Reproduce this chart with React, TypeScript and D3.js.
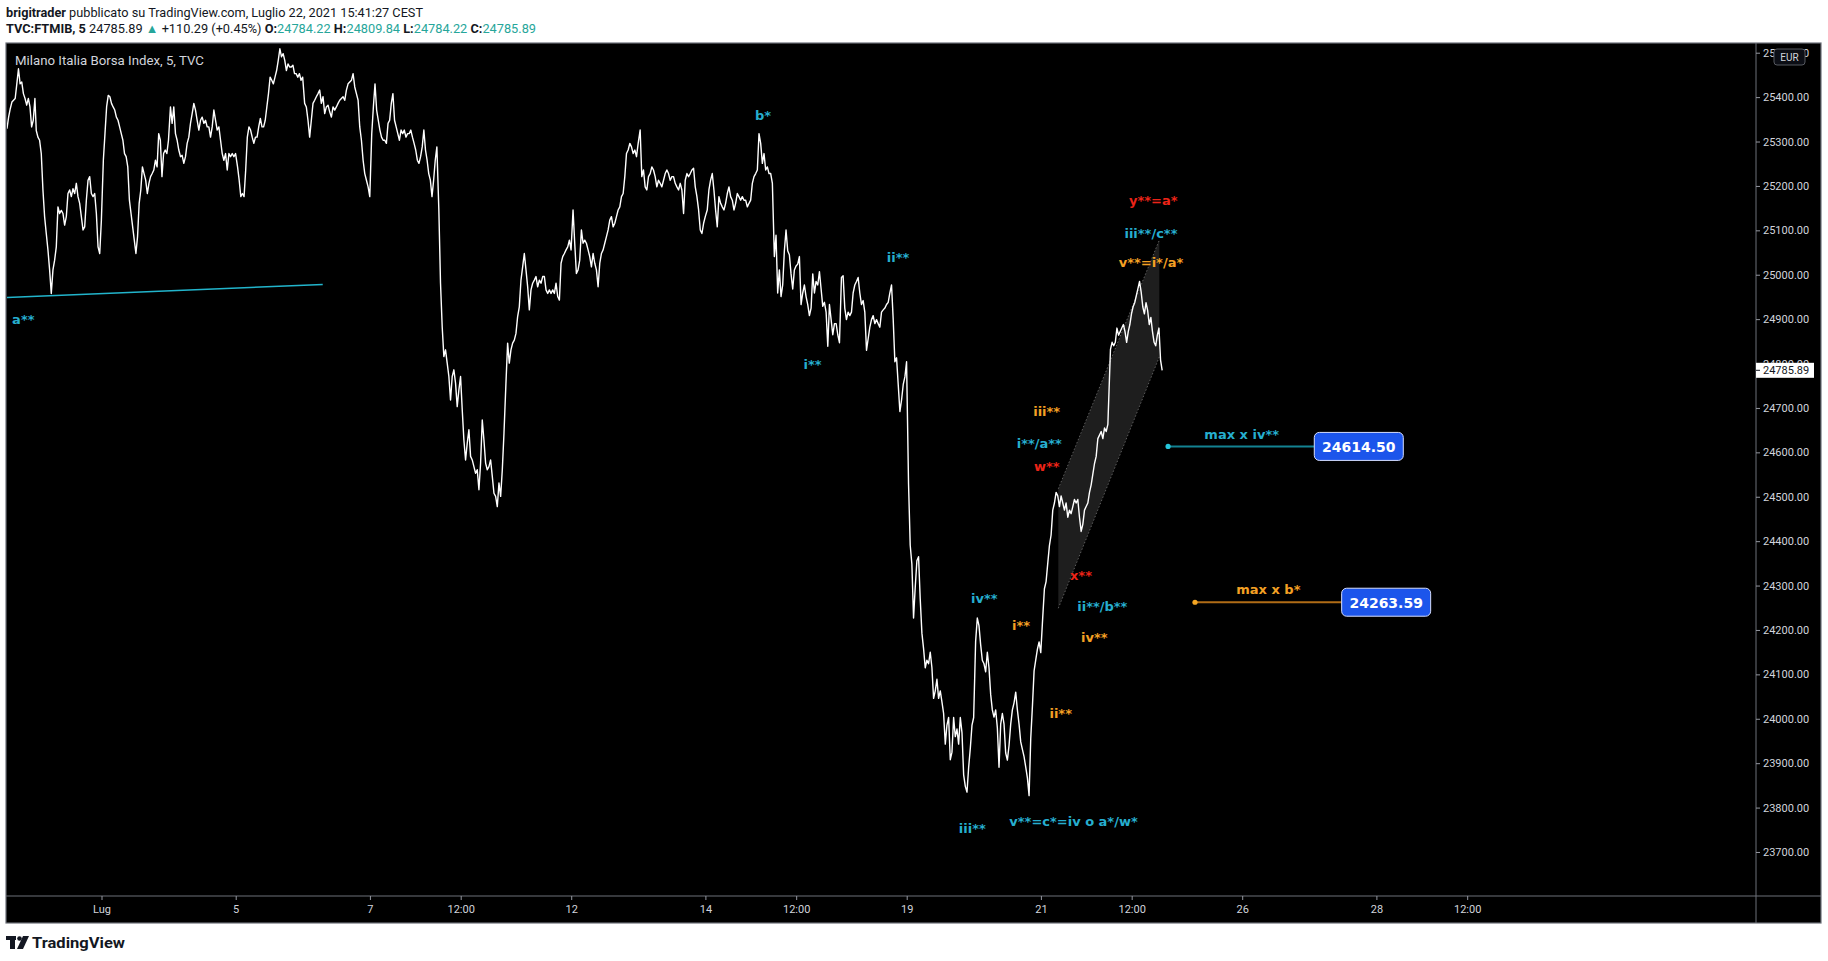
import React from "react";
import * as d3 from "d3";

// ---------------- DATA ----------------
const sessionDates = [
  "2021-06-29", "2021-06-30", "2021-07-01", "2021-07-02", "2021-07-05", "2021-07-06",
  "2021-07-07", "2021-07-08", "2021-07-09", "2021-07-12", "2021-07-13", "2021-07-14",
  "2021-07-15", "2021-07-16", "2021-07-19", "2021-07-20", "2021-07-21", "2021-07-22",
];
// first/last sampled hour of each session (Borsa 09:00-17:30)
const sessionStartHour = [13.96, 9.17, 9.17, 9.17, 9.17, 9.17, 9.17, 9.17, 9.17, 9.17, 9.17, 9.17, 9.17, 9.17, 9.17, 9.17, 9.17, 9.25];
const sessionEndHour = [17.5, 17.42, 17.42, 17.42, 17.42, 17.42, 17.42, 17.42, 17.42, 17.42, 17.42, 17.42, 17.42, 17.42, 17.42, 17.42, 17.42, 15.8];

const jun29 = [25330, 25356, 25375, 25390, 25394, 25398, 25431, 25465, 25431, 25435, 25409, 25398, 25383, 25398, 25379, 25334, 25349, 25398];
const jun30 = [25326, 25311, 25304, 25274, 25192, 25132, 25094, 25057, 25012, 24959, 25012, 25034, 25064, 25154, 25139, 25146, 25139, 25113, 25132, 25184, 25192, 25177, 25195, 25184, 25207, 25177, 25162, 25132, 25102, 25109, 25169, 25214, 25222, 25184, 25177, 25184, 25139, 25064, 25049, 25124];
const jul01 = [25259, 25319, 25379, 25405, 25402, 25387, 25379, 25372, 25356, 25349, 25334, 25319, 25304, 25274, 25267, 25244, 25169, 25139, 25109, 25079, 25049, 25087, 25162, 25192, 25244, 25229, 25214, 25184, 25207, 25222, 25229, 25237, 25259, 25244, 25319, 25304, 25222, 25274, 25282, 25274, 25304];
const jul02 = [25379, 25342, 25379, 25319, 25304, 25282, 25267, 25270, 25252, 25267, 25297, 25311, 25342, 25364, 25387, 25372, 25349, 25327, 25349, 25356, 25342, 25349, 25334, 25334, 25311, 25334, 25372, 25349, 25327, 25334, 25304, 25274, 25259, 25274, 25237, 25274, 25267, 25274, 25267, 25274];
const jul05 = [25244, 25214, 25177, 25184, 25177, 25237, 25311, 25334, 25327, 25311, 25297, 25311, 25311, 25334, 25353, 25334, 25334, 25349, 25379, 25409, 25446, 25439, 25431, 25446, 25461, 25484, 25510, 25492, 25499, 25484, 25461, 25476, 25469, 25469, 25473, 25454, 25454, 25446, 25454, 25439, 25446];
const jul06 = [25387, 25379, 25349, 25311, 25349, 25387, 25394, 25402, 25409, 25417, 25387, 25402, 25364, 25379, 25383, 25368, 25356, 25379, 25372, 25379, 25387, 25394, 25398, 25402, 25394, 25417, 25431, 25435, 25439, 25454, 25424, 25409, 25394, 25334, 25304, 25259, 25229, 25214, 25199, 25177];
const jul07 = [25319, 25379, 25431, 25372, 25349, 25327, 25311, 25304, 25304, 25297, 25342, 25349, 25387, 25409, 25349, 25334, 25319, 25304, 25327, 25319, 25327, 25311, 25319, 25319, 25327, 25311, 25297, 25282, 25259, 25252, 25267, 25289, 25327, 25282, 25259, 25229, 25214, 25177, 25214, 25259, 25289];
const jul08 = [25147, 24982, 24884, 24817, 24832, 24802, 24772, 24719, 24772, 24787, 24757, 24704, 24742, 24772, 24697, 24629, 24584, 24622, 24652, 24592, 24584, 24569, 24554, 24562, 24517, 24577, 24674, 24629, 24577, 24562, 24569, 24584, 24547, 24509, 24502, 24479, 24532, 24502, 24562, 24644];
const jul09 = [24757, 24847, 24802, 24832, 24847, 24854, 24869, 24907, 24929, 24989, 25019, 25049, 25012, 24974, 24922, 24967, 24982, 24989, 24997, 24974, 24989, 24982, 24997, 24997, 24967, 24959, 24967, 24959, 24967, 24959, 24982, 24952, 24944, 25027, 25042, 25049, 25057, 25064, 25079, 25057];
const jul12 = [25147, 25072, 25004, 25012, 25034, 25102, 25072, 25079, 25072, 25057, 25042, 25019, 25049, 25027, 25012, 24974, 25027, 25049, 25057, 25072, 25087, 25102, 25124, 25132, 25109, 25117, 25132, 25147, 25154, 25177, 25184, 25222, 25274, 25282, 25297, 25289, 25274, 25282, 25267, 25297];
const jul13 = [25327, 25222, 25237, 25199, 25192, 25222, 25229, 25244, 25237, 25222, 25199, 25214, 25207, 25199, 25214, 25229, 25237, 25229, 25214, 25222, 25222, 25207, 25199, 25192, 25207, 25192, 25139, 25214, 25229, 25222, 25229, 25237, 25241, 25199, 25177, 25147, 25102, 25094, 25117, 25132];
const jul14 = [25147, 25192, 25214, 25229, 25192, 25147, 25109, 25177, 25162, 25154, 25147, 25162, 25184, 25199, 25177, 25169, 25147, 25162, 25184, 25177, 25169, 25177, 25169, 25169, 25154, 25162, 25169, 25207, 25222, 25229, 25237, 25319, 25297, 25252, 25274, 25237, 25244, 25229, 25229, 25207];
const jul15 = [25042, 25090, 24960, 25012, 24952, 24978, 25055, 25102, 25055, 25046, 25003, 24969, 25012, 25021, 25025, 25042, 24934, 24960, 24978, 24952, 24934, 24909, 24926, 25003, 24960, 24986, 24978, 25008, 24969, 24930, 24939, 24917, 24840, 24934, 24900, 24866, 24891, 24891, 24866, 24848];
const jul16 = [24995, 24999, 24926, 24900, 24917, 24909, 24917, 24960, 24978, 24986, 24995, 24960, 24934, 24943, 24917, 24831, 24857, 24883, 24900, 24909, 24891, 24900, 24891, 24883, 24917, 24922, 24926, 24934, 24939, 24960, 24978, 24900, 24805, 24814, 24754, 24693, 24719, 24754, 24771, 24805];
const jul19 = [24530, 24392, 24349, 24228, 24297, 24357, 24366, 24271, 24194, 24159, 24116, 24133, 24125, 24151, 24116, 24047, 24064, 24090, 24047, 24064, 24039, 24013, 23944, 23987, 24004, 23909, 23926, 24004, 23961, 23978, 23944, 24004, 23970, 23875, 23849, 23836, 23892, 23935, 23987, 24004];
const jul20 = [24176, 24228, 24211, 24168, 24133, 24125, 24107, 24151, 24116, 24056, 24021, 24005, 24021, 23981, 23892, 23989, 24013, 23989, 23924, 23908, 23941, 23989, 24021, 24037, 24061, 24021, 23989, 23949, 23932, 23916, 23892, 23868, 23828, 23957, 24029, 24109, 24134, 24158, 24174, 24150];
const jul21 = [24230, 24294, 24310, 24351, 24391, 24415, 24471, 24487, 24511, 24503, 24479, 24503, 24487, 24471, 24487, 24455, 24471, 24463, 24479, 24495, 24487, 24495, 24455, 24423, 24439, 24471, 24479, 24487, 24511, 24528, 24552, 24576, 24592, 24632, 24640, 24648, 24632, 24656, 24648, 24664];
const jul22 = [24833, 24849, 24841, 24849, 24881, 24865, 24873, 24881, 24889, 24873, 24849, 24873, 24889, 24913, 24929, 24938, 24954, 24970, 24986, 24962, 24929, 24913, 24938, 24921, 24889, 24905, 24873, 24849, 24841, 24865, 24881, 24809, 24785.89];

const sessionCloses = [jun29, jun30, jul01, jul02, jul05, jul06, jul07, jul08, jul09, jul12, jul13, jul14, jul15, jul16, jul19, jul20, jul21, jul22];

const priceTicks = [23700, 23800, 23900, 24000, 24100, 24200, 24300, 24400, 24500, 24600, 24700, 24800, 24900, 25000, 25100, 25200, 25300, 25400, 25500];
const lastPrice = 24785.89;

const timeTickLabels = ["Lug", "5", "7", "12:00", "12", "14", "12:00", "19", "21", "12:00", "26", "28", "12:00"];
const timeTickDates = ["2021-07-01", "2021-07-05", "2021-07-07", "2021-07-08", "2021-07-12", "2021-07-14", "2021-07-15", "2021-07-19", "2021-07-21", "2021-07-22", "2021-07-26", "2021-07-28", "2021-07-29"];
const timeTickHours = [9, 9, 9, 12, 9, 9, 12, 9, 9, 12, 9, 9, 12];

// annotations: trading-time (days since 1 Jul, fractional) and price
const CYAN = "#26aecf";
const ORANGE = "#f4a024";
const RED = "#ec2418";
const labelTexts = ["a**", "b*", "i**", "ii**", "iii**", "iv**", "v**=c*=iv o a*/w*", "i**", "ii**", "iii**", "i**/a**", "w**", "x**", "ii**/b**", "iv**", "y**=a*", "iii**/c**", "v**=i*/a*", "max x iv**", "max x b*"];
const labelTimes = [-1.173, 9.85, 10.589, 11.863, 12.97, 13.149, 14.479, 13.696, 14.288, 14.079, 13.969, 14.079, 14.59, 14.908, 14.789, 15.668, 15.633, 15.633, 16.985, 17.382];
const labelPrices = [24901, 25360, 24798, 25040, 23753, 24271, 23770, 24212, 24012, 24692, 24620, 24569, 24323, 24253, 24184, 25169, 25094, 25028, 24642, 24293];
const labelColors = [CYAN, CYAN, CYAN, CYAN, CYAN, CYAN, CYAN, ORANGE, ORANGE, ORANGE, CYAN, RED, RED, CYAN, ORANGE, RED, CYAN, ORANGE, CYAN, ORANGE];

const trendTimes = [-1.42, 3.289];
const trendPrices = [24950, 24979];

const channelTimes = [14.252, 15.757, 15.757, 14.252];
const channelPrices = [24519, 25079, 24816, 24250];

const noteValues = [24614.5, 24263.59];
const noteStartTimes = [15.888, 16.289];
const noteBoxTimes = [18.067, 18.475];
const noteLineColors = ["#138292", "#b06c16"];
const noteDotColors = ["#26c6da", "#f5a623"];

// ---------------- LAYOUT ----------------
const W = 1828, H = 961;
const FL = 6, FR = 1821, FT = 43, FB = 923;
const PL = 7, PR = 1756, PT = 43, PB = 896;

function tradingIndex(dateStr: string) {
  const base = Date.UTC(2021, 6, 1);
  const [y, m, d] = dateStr.split("-").map(Number);
  const target = Date.UTC(y, m - 1, d);
  const step = target >= base ? 1 : -1;
  let cur = base, n = 0;
  while (cur !== target) {
    cur += step * 86400000;
    const wd = new Date(cur).getUTCDay();
    if (wd !== 0 && wd !== 6) n += step;
  }
  return n;
}
const tradingTime = (date: string, hour: number) => tradingIndex(date) + (hour - 9) / 8.5;

const xScale = d3.scaleLinear().domain([-1.416, 24.65]).range([PL, PR]);
const yScale = d3.scaleLinear().domain([23602, 25523]).range([PB, PT]);

const series: { t: number; p: number }[] = [];
sessionDates.forEach((date, i) => {
  const c = sessionCloses[i];
  const h0 = sessionStartHour[i], h1 = sessionEndHour[i];
  c.forEach((p, j) => {
    series.push({ t: tradingTime(date, h0 + ((h1 - h0) * j) / (c.length - 1)), p });
  });
});

const ANN_FONT = "'DejaVu Sans', Verdana, sans-serif";
const AX_FONT = "Roboto, 'Liberation Sans', sans-serif";

export default function App() {
  const line = d3.line<{ t: number; p: number }>().x((d) => xScale(d.t)).y((d) => yScale(d.p));
  const channelPts = channelTimes.map((t, i) => [xScale(t), yScale(channelPrices[i])]);
  const fmt = d3.format(".2f");
  const yLast = yScale(lastPrice);
  const teal = "#26a69a";

  return (
    <div style={{ position: "absolute", left: 0, top: 0 }}>
      <svg width={W} height={H} style={{ display: "block" }}>
        <rect x={0} y={0} width={W} height={H} fill="#ffffff" />
        {/* header */}
        <text x={6} y={17} fontFamily={AX_FONT} fontSize={13} fill="#131722" textLength={417} lengthAdjust="spacingAndGlyphs">
          <tspan fontWeight="bold">brigitrader</tspan>
          <tspan>{" pubblicato su TradingView.com, Luglio 22, 2021 15:41:27 CEST"}</tspan>
        </text>
        <text x={6} y={33} fontFamily={AX_FONT} fontSize={13} fill="#131722" textLength={530} lengthAdjust="spacingAndGlyphs">
          <tspan fontWeight="bold">TVC:FTMIB, 5</tspan>
          <tspan>{"  24785.89 "}</tspan>
          <tspan fill={teal}>▲</tspan>
          <tspan>{" +110.29 (+0.45%) "}</tspan>
          <tspan fontWeight="bold">O:</tspan>
          <tspan fill={teal}>24784.22</tspan>
          <tspan fontWeight="bold">{" H:"}</tspan>
          <tspan fill={teal}>24809.84</tspan>
          <tspan fontWeight="bold">{" L:"}</tspan>
          <tspan fill={teal}>24784.22</tspan>
          <tspan fontWeight="bold">{" C:"}</tspan>
          <tspan fill={teal}>24785.89</tspan>
        </text>

        {/* chart panel */}
        <rect x={FL} y={FT} width={FR - FL} height={FB - FT} fill="#000000" stroke="#6d7079" strokeWidth={1.2} />
        <line x1={PR} y1={FT} x2={PR} y2={FB} stroke="#6d7079" strokeWidth={1} />
        <line x1={FL} y1={PB} x2={FR} y2={PB} stroke="#6d7079" strokeWidth={1} />

        <defs>
          <clipPath id="plotClip">
            <rect x={PL} y={PT + 1} width={PR - PL} height={PB - PT - 1} />
          </clipPath>
        </defs>

        <g clipPath="url(#plotClip)">
          {/* channel */}
          <polygon points={channelPts.map((p) => p.join(",")).join(" ")} fill="#1e1e1e" />
          <line x1={channelPts[0][0]} y1={channelPts[0][1]} x2={channelPts[1][0]} y2={channelPts[1][1]} stroke="#5c5c5c" strokeWidth={1} strokeDasharray="1.5 2" />
          <line x1={channelPts[3][0]} y1={channelPts[3][1]} x2={channelPts[2][0]} y2={channelPts[2][1]} stroke="#5c5c5c" strokeWidth={1} strokeDasharray="1.5 2" />

          {/* trendline */}
          <line x1={xScale(trendTimes[0])} y1={yScale(trendPrices[0])} x2={xScale(trendTimes[1])} y2={yScale(trendPrices[1])} stroke="#22b5cc" strokeWidth={1.5} />

          {/* price line */}
          <path d={line(series) || ""} fill="none" stroke="#ffffff" strokeWidth={1.4} strokeLinejoin="round" />

          {/* price notes */}
          {noteValues.map((v, i) => {
            const y = yScale(v);
            const x0 = xScale(noteStartTimes[i]);
            const x1 = xScale(noteBoxTimes[i]);
            return (
              <g key={"n" + i}>
                <line x1={x0} y1={y} x2={x1} y2={y} stroke={noteLineColors[i]} strokeWidth={2} />
                <circle cx={x0} cy={y} r={2.6} fill={noteDotColors[i]} />
                <rect x={x1} y={y - 14} width={89} height={28} rx={5} fill="#1c55eb" stroke="#d6deff" strokeWidth={1} />
                <text x={x1 + 44.5} y={y + 1} textAnchor="middle" dominantBaseline="central" fontFamily={ANN_FONT} fontWeight="bold" fontSize={14} fill="#ffffff">
                  {fmt(v)}
                </text>
              </g>
            );
          })}

          {/* wave labels */}
          {labelTexts.map((t, i) => (
            <text key={"l" + i} x={xScale(labelTimes[i])} y={yScale(labelPrices[i])} textAnchor="middle" dominantBaseline="central" fontFamily={ANN_FONT} fontWeight="bold" fontSize={13} fill={labelColors[i]}>
              {t}
            </text>
          ))}
        </g>

        {/* title */}
        <text x={15} y={65} fontFamily={AX_FONT} fontSize={13} fill="#d1d4dc" textLength={189} lengthAdjust="spacingAndGlyphs">
          Milano Italia Borsa Index, 5, TVC
        </text>

        {/* price axis */}
        {priceTicks.map((p) => (
          <g key={"p" + p}>
            <line x1={PR} x2={PR + 4} y1={yScale(p)} y2={yScale(p)} stroke="#9598a1" />
            <text x={PR + 7} y={yScale(p)} dominantBaseline="central" fontFamily={AX_FONT} fontSize={11} fill="#d1d4dc">
              {fmt(p)}
            </text>
          </g>
        ))}
        <rect x={PR} y={yLast - 7.5} width={58} height={15} fill="#ffffff" />
        <line x1={PR} x2={PR + 4} y1={yLast} y2={yLast} stroke="#131722" />
        <text x={PR + 7} y={yLast} dominantBaseline="central" fontFamily={AX_FONT} fontSize={11} fill="#131722">
          {fmt(lastPrice)}
        </text>
        <rect x={1774} y={49} width={31} height={16} rx={3} fill="#0c0e15" stroke="#55585f" />
        <text x={1789.5} y={57.5} textAnchor="middle" dominantBaseline="central" fontFamily={AX_FONT} fontSize={10} fill="#d1d4dc">
          EUR
        </text>

        {/* time axis */}
        {timeTickLabels.map((lab, i) => {
          const x = xScale(tradingTime(timeTickDates[i], timeTickHours[i]));
          return (
            <g key={"t" + i}>
              <line x1={x} x2={x} y1={PB} y2={PB + 4} stroke="#9598a1" />
              <text x={x} y={909} textAnchor="middle" dominantBaseline="central" fontFamily={AX_FONT} fontSize={11} fill="#d1d4dc">
                {lab}
              </text>
            </g>
          );
        })}

        {/* TradingView logo */}
        <g fill="#131722">
          <rect x={6} y={936} width={10} height={4} />
          <rect x={10} y={936} width={5} height={13} />
          <circle cx={19.5} cy={938.5} r={2.3} />
          <polygon points="23,936 29,936 23,949 17,949" />
        </g>
        <text x={32} y={948} fontFamily={AX_FONT} fontWeight="bold" fontSize={15} fill="#131722" textLength={93} lengthAdjust="spacingAndGlyphs">
          TradingView
        </text>
      </svg>
    </div>
  );
}
